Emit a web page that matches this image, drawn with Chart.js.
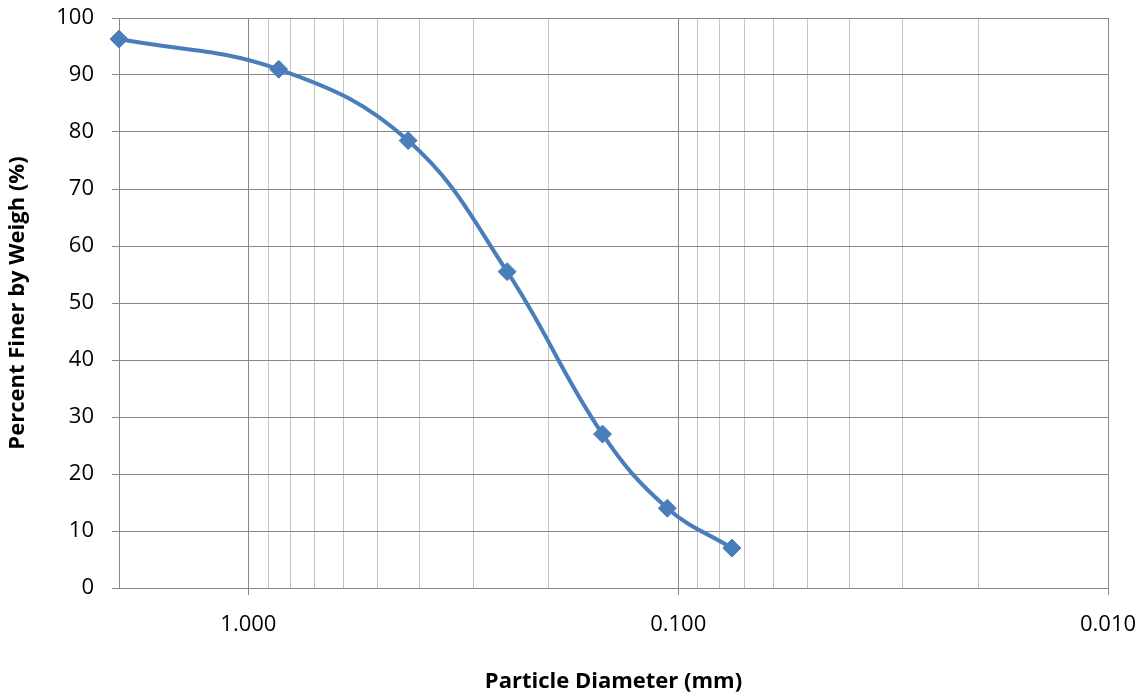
<!DOCTYPE html>
<html>
<head>
<meta charset="utf-8">
<script src="https://cdn.jsdelivr.net/npm/chart.js@4/dist/chart.umd.min.js"></script>
<style>
  html, body { margin: 0; padding: 0; background: #ffffff; }
  #wrap { width: 1146px; height: 698px; position: relative; }
</style>
</head>
<body>
<div id="wrap"><canvas id="grading"></canvas></div>
<script>
// Sieve analysis: particle diameter (mm) vs. percent passing
const diameters = [2.0, 0.85, 0.425, 0.25, 0.15, 0.106, 0.075];
const percentFiner = [96.3, 91.0, 78.5, 55.5, 27.0, 14.0, 7.0];

// Labelled decades on the diameter axis
const decadeValues = [1, 0.1, 0.01];
const decadeLabels = ['1.000', '0.100', '0.010'];

// Y axis range and step
const yTicks = [0, 10, 20, 30, 40, 50, 60, 70, 80, 90, 100];

const xMin = 0.01, xMax = 2;
const FONT = "'Open Sans', 'Liberation Sans', sans-serif";
const MAJOR = '#878787';
const MINOR = '#c3c3c3';
const BLUE = '#4a7ebb';

function isDecade(v) {
  return decadeValues.some(d => Math.abs(v - d) / d < 1e-6);
}

// Log grid: 1..9 in every decade between the axis limits
function logGridValues() {
  const vals = [];
  for (let e = -2; e <= 0; e++) {
    for (let m = 1; m <= 9; m++) {
      const v = +(m * Math.pow(10, e)).toPrecision(6);
      if (v >= xMin - 1e-9 && v <= xMax + 1e-9) vals.push(v);
    }
  }
  return vals;
}

const points = diameters.map((d, i) => ({ x: d, y: percentFiner[i] }));

new Chart(document.getElementById('grading'), {
  type: 'scatter',
  data: {
    datasets: [{
      data: points,
      showLine: true,
      borderColor: BLUE,
      backgroundColor: BLUE,
      borderWidth: 4,
      tension: 0.4,
      pointStyle: 'rectRot',
      pointRadius: 9,
      pointHoverRadius: 9,
      pointBorderWidth: 1,
      pointBorderColor: BLUE,
      pointBackgroundColor: BLUE,
      clip: false
    }]
  },
  options: {
    responsive: true,
    maintainAspectRatio: false,
    animation: false,
    layout: { padding: { top: 18, right: 38, left: 0, bottom: 0 } },
    plugins: {
      legend: { display: false },
      tooltip: { enabled: false }
    },
    scales: {
      x: {
        type: 'logarithmic',
        reverse: true,
        min: xMin,
        max: xMax,
        afterBuildTicks(scale) {
          scale.ticks = logGridValues().map(v => ({ value: v, major: isDecade(v) }));
        },
        afterFit(scale) {
          scale.height = 110;
          scale.paddingLeft = 0;
          scale.paddingRight = 0;
        },
        border: { display: true, color: MAJOR, width: 1 },
        grid: {
          display: true,
          drawTicks: true,
          tickLength: 7,
          lineWidth: 1,
          color: ctx => (ctx.tick && isDecade(ctx.tick.value)) ? MAJOR : MINOR,
          tickColor: ctx => (ctx.tick && isDecade(ctx.tick.value)) ? MAJOR : 'rgba(0,0,0,0)'
        },
        ticks: {
          autoSkip: false,
          maxRotation: 0,
          minRotation: 0,
          padding: 17,
          color: '#000000',
          font: { family: FONT, size: 22 },
          callback(value) {
            const i = decadeValues.findIndex(d => Math.abs(value - d) / d < 1e-6);
            return i >= 0 ? decadeLabels[i] : '';
          }
        },
        title: {
          display: true,
          text: 'Particle Diameter (mm)',
          color: '#000000',
          font: { family: FONT, size: 22, weight: 'bold' },
          padding: { top: 0, bottom: 3 }
        }
      },
      y: {
        min: 0,
        max: 100,
        afterBuildTicks(scale) {
          scale.ticks = yTicks.map(v => ({ value: v }));
        },
        afterFit(scale) {
          scale.width = 119;
          scale.paddingTop = 0;
          scale.paddingBottom = 0;
        },
        border: { display: true, color: MAJOR, width: 1 },
        grid: {
          color: MAJOR,
          lineWidth: 1,
          tickLength: 7,
          tickColor: MAJOR
        },
        ticks: {
          padding: 18,
          color: '#000000',
          font: { family: FONT, size: 22 }
        },
        title: {
          display: true,
          text: 'Percent Finer by Weigh (%)',
          color: '#000000',
          font: { family: FONT, size: 22, weight: 'bold' },
          padding: { top: 5, bottom: 0 }
        }
      }
    }
  }
});
</script>
</body>
</html>
